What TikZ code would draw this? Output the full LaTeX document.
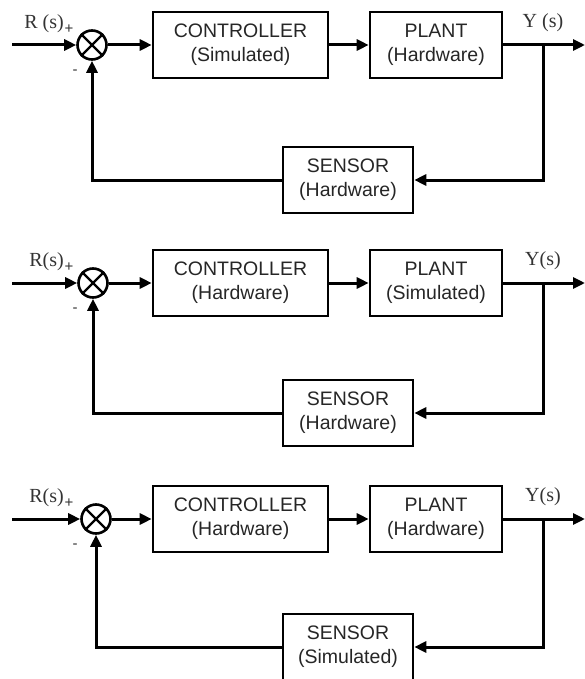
\documentclass[tikz,border=0pt]{standalone}
\usepackage{fontspec}
\setmainfont{Liberation Sans}
\newfontfamily\sigfont{Liberation Serif}
\usetikzlibrary{arrows.meta}
\tikzset{
  blk/.style={draw, line width=2.6pt, text=black!85, align=center,
    font=\fontsize{19.5}{24}\selectfont, inner sep=0pt, minimum height=66pt},
  wire/.style={line width=3pt},
  arr/.style={wire, -{Triangle[length=12pt,width=11pt]}},
  sumnode/.style={circle, draw, line width=2.6pt, minimum size=29pt, inner sep=0pt},
  sig/.style={font=\sigfont\fontsize{20}{20}\selectfont, text=black!80, inner sep=0pt},
  sgn/.style={font=\fontsize{15}{15}\selectfont, text=black!80, inner sep=0pt},
}
% #1 id, #2 main y, #3 sensor y, #4 circle x, #5 controller, #6 plant, #7 sensor, #8 R label, #9 Y label
\newcommand\loopdiag[9]{%
  \node[sumnode] (s#1) at (#4,#2) {};
  \draw[line width=2.2pt] (s#1.north west) -- (s#1.south east) (s#1.north east) -- (s#1.south west);
  \node[blk, minimum width=175pt] (c#1) at (240.5,#2) {CONTROLLER\\(#5)};
  \node[blk, minimum width=132pt] (p#1) at (436,#2) {PLANT\\(#6)};
  \node[blk, minimum width=130pt] (f#1) at (348,#3) {SENSOR\\(#7)};
  \coordinate (in#1) at (12,#2);
  \coordinate (out#1) at (585,#2);
  \coordinate (br#1) at (543,#2);
  \draw[arr] (in#1) -- (s#1.west);
  \draw[arr] (s#1.east) -- (c#1.west);
  \draw[arr] (c#1.east) -- (p#1.west);
  \draw[arr] (p#1.east) -- (out#1);
  \draw[arr] (br#1) |- (f#1.east);
  \draw[arr] (f#1.west) -| (s#1.south);
  \node[sig, anchor=east] (r#1) at (64,{#2-21}) {#8};
  \node[sig] (y#1) at (543,{#2-22}) {#9};
  \node[sgn] (pl#1) at (69,{#2-16}) {+};
  \node[sgn] (mi#1) at (75,{#2+27}) {-};
}
\begin{document}
\begin{tikzpicture}[x=1pt,y=-1pt]
  \useasboundingbox (0,0) rectangle (585,679);
  \loopdiag{a}{45}{180}{92}{Simulated}{Hardware}{Hardware}{R (s)}{Y (s)}
  \loopdiag{b}{283}{413}{93}{Hardware}{Simulated}{Hardware}{R(s)}{Y(s)}
  \loopdiag{c}{519}{647}{96}{Hardware}{Hardware}{Simulated}{R(s)}{Y(s)}
\end{tikzpicture}
\end{document}
